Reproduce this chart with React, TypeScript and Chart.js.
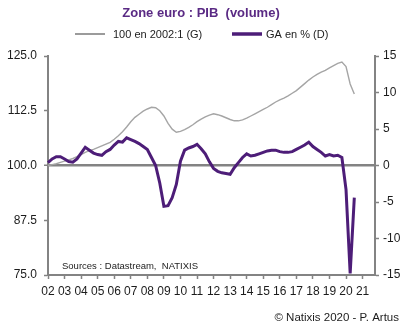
import React, { useEffect, useRef } from "react";
import { Chart, registerables } from "chart.js";

Chart.register(...registerables);

// ---------- Texts ----------
const TITLE = "Zone euro : PIB  (volume)";
const LEGEND_LEVEL = "100 en 2002:1 (G)";
const LEGEND_GA = "GA en % (D)";
const SOURCE = "Sources : Datastream,  NATIXIS";
const FOOTER = "© Natixis 2020 - P. Artus";

// ---------- Categories (quarters 2002:1 .. 2021:4) ----------
const YEARS = [2002, 2003, 2004, 2005, 2006, 2007, 2008, 2009, 2010, 2011, 2012, 2013, 2014, 2015, 2016, 2017, 2018, 2019, 2020, 2021];
const QUARTERS = [1, 2, 3, 4];
const categories: string[] = YEARS.flatMap((y) => QUARTERS.map((q) => `${y}:${q}`));

// ---------- Series ----------
// Level, 100 in 2002:1 (left axis)
const levelIndex = [
  100.0, 100.2, 100.4, 100.7, // 2002
  101.0, 101.3, 101.6, 102.0, // 2003
  102.5, 103.0, 103.4, 103.7, // 2004
  104.1, 104.5, 104.9, 105.3, // 2005
  106.0, 106.8, 107.7, 108.8, // 2006
  110.0, 111.0, 111.7, 112.4, // 2007
  112.9, 113.3, 113.2, 112.5, // 2008
  111.3, 109.6, 108.3, 107.6, // 2009
  107.8, 108.2, 108.7, 109.3, // 2010
  110.0, 110.6, 111.1, 111.5, // 2011
  111.8, 111.6, 111.3, 110.9, // 2012
  110.5, 110.2, 110.2, 110.4, // 2013
  110.8, 111.3, 111.8, 112.3, // 2014
  112.8, 113.3, 113.9, 114.5, // 2015
  115.0, 115.4, 115.9, 116.5, // 2016
  117.1, 117.9, 118.7, 119.5, // 2017
  120.2, 120.8, 121.3, 121.7, // 2018
  122.3, 122.8, 123.3, 123.6, // 2019
  122.6, 118.6, 116.3,        // 2020
];

// Year-over-year growth, % (right axis)
const yoyGrowth = [
  0.4, 0.9, 1.2, 1.2,     // 2002
  0.9, 0.55, 0.45, 0.9,   // 2003
  1.7, 2.5, 2.1, 1.7,     // 2004
  1.5, 1.4, 1.9, 2.2,     // 2005
  2.8, 3.3, 3.2, 3.8,     // 2006
  3.55, 3.3, 3.0, 2.6,    // 2007
  2.2, 1.1, 0.0, -2.4,    // 2008
  -5.6, -5.5, -4.4, -2.6, // 2009
  0.6, 2.1, 2.4, 2.6,     // 2010
  2.9, 2.3, 1.6, 0.5,     // 2011
  -0.4, -0.8, -1.0, -1.1, // 2012
  -1.2, -0.3, 0.4, 1.1,   // 2013
  1.6, 1.3, 1.4, 1.6,     // 2014
  1.8, 2.0, 2.1, 2.1,     // 2015
  1.9, 1.8, 1.8, 1.9,     // 2016
  2.2, 2.5, 2.8, 3.2,     // 2017
  2.6, 2.2, 1.8, 1.3,     // 2018
  1.5, 1.3, 1.4, 1.1,     // 2019
  -3.3, -14.8, -4.4,      // 2020
];

// ---------- Axis ticks ----------
const LEFT_MIN = 75;
const LEFT_MAX = 125;
const LEFT_STEP = 12.5;
const RIGHT_MIN = -15;
const RIGHT_MAX = 15;
const RIGHT_STEP = 5;
const LEFT_REF = 100;

// ---------- Styles ----------
const FONT = '"Liberation Sans", Arial, Helvetica, sans-serif';
const PURPLE = "#4d1d78";
const TITLE_PURPLE = "#5a2a84";
const GRAY_LINE = "#a5a5a5";
const AXIS_GRAY = "#838383";
const TEXT = "#1c1c1c";

const textPlugin = {
  id: "customTexts",
  afterDraw(chart: any) {
    const ctx = chart.ctx as CanvasRenderingContext2D;
    const area = chart.chartArea;
    ctx.save();
    // Title
    ctx.fillStyle = TITLE_PURPLE;
    ctx.font = `bold 13px ${FONT}`;
    ctx.textAlign = "center";
    ctx.textBaseline = "middle";
    ctx.fillText(TITLE, 201, 13);

    // Legend
    ctx.font = `11px ${FONT}`;
    ctx.textAlign = "left";
    ctx.fillStyle = TEXT;
    ctx.lineCap = "butt";
    ctx.strokeStyle = "#9b9b9b";
    ctx.lineWidth = 2;
    ctx.beginPath();
    ctx.moveTo(75, 34);
    ctx.lineTo(105, 34);
    ctx.stroke();
    ctx.fillText(LEGEND_LEVEL, 113, 34.5);
    ctx.strokeStyle = PURPLE;
    ctx.lineWidth = 3.5;
    ctx.beginPath();
    ctx.moveTo(232, 34);
    ctx.lineTo(262, 34);
    ctx.stroke();
    ctx.fillText(LEGEND_GA, 266, 34.5);

    // Sources inside plot
    ctx.font = `9.5px ${FONT}`;
    ctx.fillText(SOURCE, area.left + 14, area.bottom - 8.5);

    // Footer
    ctx.font = `11.5px ${FONT}`;
    ctx.textAlign = "right";
    ctx.fillText(FOOTER, 399, 318);
    ctx.restore();
  },
};

export default function App() {
  const canvasRef = useRef<HTMLCanvasElement | null>(null);

  useEffect(() => {
    if (!canvasRef.current) return;
    const chart = new Chart(canvasRef.current, {
      type: "line",
      data: {
        labels: categories,
        datasets: [
          {
            label: LEGEND_LEVEL,
            data: levelIndex,
            yAxisID: "y",
            borderColor: GRAY_LINE,
            borderWidth: 1.4,
            pointRadius: 0,
            tension: 0,
            order: 2,
          },
          {
            label: LEGEND_GA,
            data: yoyGrowth,
            yAxisID: "y1",
            borderColor: PURPLE,
            borderWidth: 3,
            pointRadius: 0,
            tension: 0,
            clip: false as any,
            order: 1,
          },
        ],
      },
      options: {
        responsive: false,
        animation: false,
        layout: { padding: { top: 56, left: 0, right: 0, bottom: 0 } },
        plugins: {
          legend: { display: false },
          title: { display: false },
          tooltip: { enabled: false },
        },
        scales: {
          x: {
            type: "category",
            offset: false,
            grid: {
              display: true,
              drawOnChartArea: false,
              drawTicks: true,
              tickLength: 4,
              tickWidth: 1.5,
              tickColor: (c: any) => (c.index % 4 === 0 ? AXIS_GRAY : "rgba(0,0,0,0)"),
            },
            border: { display: true, color: AXIS_GRAY, width: 2 },
            ticks: {
              autoSkip: false,
              maxRotation: 0,
              minRotation: 0,
              padding: 5,
              color: TEXT,
              font: { family: FONT, size: 12 },
              callback: (_v: any, i: number) =>
                i % 4 === 0 ? categories[i].slice(2, 4) : "",
            },
            afterFit: (s: any) => {
              s.height = 54;
            },
          },
          y: {
            type: "linear",
            position: "left",
            min: LEFT_MIN,
            max: LEFT_MAX,
            grid: {
              drawOnChartArea: true,
              drawTicks: true,
              tickLength: 4,
              tickWidth: 1.5,
              tickColor: AXIS_GRAY,
              color: (c: any) =>
                c.tick && c.tick.value === LEFT_REF ? AXIS_GRAY : "rgba(0,0,0,0)",
              lineWidth: (c: any) => (c.tick && c.tick.value === LEFT_REF ? 2.5 : 1),
            },
            border: { display: true, color: AXIS_GRAY, width: 2 },
            ticks: {
              stepSize: LEFT_STEP,
              padding: 7,
              color: TEXT,
              font: { family: FONT, size: 12 },
              callback: (v: any) => Number(v).toFixed(1),
            },
            afterFit: (s: any) => {
              s.width = 48;
            },
          },
          y1: {
            type: "linear",
            position: "right",
            min: RIGHT_MIN,
            max: RIGHT_MAX,
            grid: {
              drawOnChartArea: false,
              drawTicks: true,
              tickLength: 4,
              tickWidth: 1.5,
              tickColor: AXIS_GRAY,
            },
            border: { display: true, color: AXIS_GRAY, width: 2 },
            ticks: {
              stepSize: RIGHT_STEP,
              padding: 4,
              color: TEXT,
              font: { family: FONT, size: 12 },
            },
            afterFit: (s: any) => {
              s.width = 35;
            },
          },
        },
      } as any,
      plugins: [textPlugin],
    });
    return () => chart.destroy();
  }, []);

  return (
    <div style={{ position: "absolute", left: 0, top: 0, width: 410, height: 329, background: "#ffffff" }}>
      <canvas ref={canvasRef} width={410} height={329} />
    </div>
  );
}
